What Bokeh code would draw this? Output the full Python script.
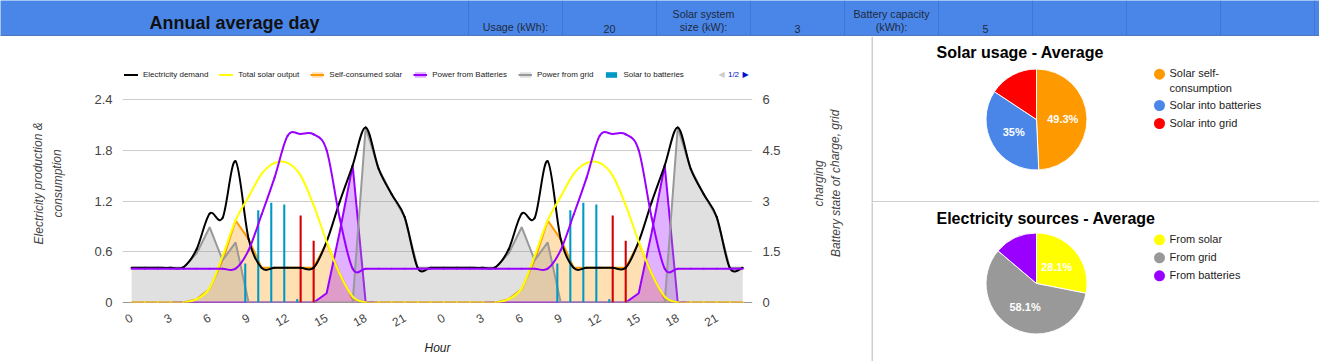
import numpy as np
from math import pi
from bokeh.plotting import figure
from bokeh.models import (Range1d, LinearAxis, FixedTicker, Legend, LegendItem,
                          Label, Span, ColumnDataSource, NumeralTickFormatter)
from bokeh.layouts import column, row
from bokeh.transform import dodge
from bokeh.embed import file_html
from bokeh.resources import INLINE
from bokeh.core.properties import value

FONT = "Liberation Sans"

# ---------------- header table ----------------
header_title = "Annual average day"
header_cells = ["Usage (kWh):", "20", "Solar system\nsize (kW):", "3",
                "Battery capacity\n(kWh):", "5", "", "", "", ""]

# ---------------- hourly data (average day) ----------------
hours = [0, 1, 2, 3, 4, 5, 6, 7, 8, 9, 10, 11,
         12, 13, 14, 15, 16, 17, 18, 19, 20, 21, 22, 23]
tick_hours = [0, 3, 6, 9, 12, 15, 18, 21]
demand = [0.41, 0.41, 0.41, 0.41, 0.42, 0.63, 1.05, 1.00, 1.67, 0.75, 0.41, 0.41,
          0.41, 0.41, 0.41, 0.72, 1.19, 1.62, 2.07, 1.58, 1.28, 1.01, 0.41, 0.41]
solar_output = [0, 0, 0, 0, 0, 0.04, 0.17, 0.55, 0.97, 1.25, 1.52, 1.65,
                1.65, 1.50, 1.15, 0.72, 0.34, 0.07, 0, 0, 0, 0, 0, 0]
self_consumed = [0, 0, 0, 0, 0, 0.04, 0.16, 0.50, 0.97, 0.75, 0.41, 0.41,
                 0.41, 0.41, 0.41, 0.71, 0.34, 0.04, 0, 0, 0, 0, 0, 0]
from_batteries = [0, 0, 0, 0, 0, 0, 0, 0, 0, 0, 0, 0,
                  0, 0, 0, 0.11, 0.83, 1.62, 0, 0, 0, 0, 0, 0]
from_grid = [0.41, 0.41, 0.41, 0.41, 0.41, 0.58, 0.89, 0.50, 0.71, 0, 0, 0,
             0, 0, 0, 0, 0, 0, 2.07, 1.58, 1.28, 1.01, 0.41, 0.41]
solar_to_batteries = [0, 0, 0, 0, 0, 0, 0, 0, 0, 0.46, 1.09, 1.18,
                      1.16, 0.04, 0, 0, 0, 0, 0, 0, 0, 0, 0, 0]
solar_to_grid = [0, 0, 0, 0, 0, 0, 0, 0, 0, 0, 0, 0,
                 0, 1.03, 0.73, 0, 0, 0, 0, 0, 0, 0, 0, 0]
battery_soc = [1.0, 1.0, 1.0, 1.0, 1.0, 1.0, 1.0, 1.0, 1.0, 1.55, 2.6, 3.7,
               4.93, 4.98, 4.97, 4.5, 2.5, 1.0, 1.0, 1.0, 1.0, 1.0, 1.0, 1.0]
days_shown = 2
left_ticks = [0, 0.6, 1.2, 1.8, 2.4]
right_ticks = [0, 1.5, 3, 4.5, 6]

# ---------------- pies ----------------
usage_labels = ["Solar self-\nconsumption", "Solar into batteries", "Solar into grid"]
usage_values = [49.3, 35.0, 15.7]
usage_colors = ["#ff9900", "#4a86e8", "#ff0000"]
usage_slice_text = ["49.3%", "35%", ""]

sources_labels = ["From solar", "From grid", "From batteries"]
sources_values = [28.1, 58.1, 13.8]
sources_colors = ["#ffff00", "#999999", "#9900ff"]
sources_slice_text = ["28.1%", "58.1%", ""]

BLACK, YELLOW, ORANGE, PURPLE, GRAY, TEAL, RED = (
    "#000000", "#ffff00", "#ff9900", "#9900ff", "#999999", "#0099c6", "#d40000")

# =============== header ===============
W_ALL, H_ALL = 1319, 361
HDR_H = 36
CELL = 94
FIRST = 468
hdr = figure(width=W_ALL, height=HDR_H, output_backend="svg", toolbar_location=None,
             x_range=Range1d(-FIRST / CELL, (W_ALL - FIRST) / CELL),
             y_range=Range1d(0, HDR_H), min_border=0,
             x_axis_location=None, y_axis_location=None)
hdr.background_fill_color = "#4a86e8"
hdr.border_fill_color = "#4a86e8"
hdr.outline_line_color = None
hdr.ygrid.visible = False
hdr.xgrid.ticker = FixedTicker(ticks=list(range(len(header_cells))))
hdr.xgrid.grid_line_color = "#3f77d6"
hdr.add_layout(Span(location=0.5, dimension="width", line_color="#56698f", line_width=1))
hsrc = ColumnDataSource(dict(x=[i + 0.5 for i in range(len(header_cells))], text=header_cells))
hdr.text(x="x", y=3.5, text="text", source=hsrc, text_align="center", text_baseline="bottom",
         text_font=value(FONT), text_font_size="10.7px", text_color="#1f2a3c",
         text_line_height=1.1)
hdr.text(x=[-FIRST / CELL / 2], y=[14], text=[header_title], text_align="center",
         text_baseline="middle", text_font=value(FONT), text_font_size="18px",
         text_font_style="bold", text_color="#111111")

# =============== main chart ===============
BODY_H = H_ALL - HDR_H
LT_W = 70                      # left axis-title strip
MAIN_X0, MAIN_X1 = LT_W, 800   # main figure span on the page
FR_L, FR_R, FR_TOP, FR_BOT, GRID_TOP = 122, 752, 60, 302, 99   # page pixels
y_top = left_ticks[-1] * (FR_BOT - FR_TOP) / (FR_BOT - GRID_TOP)
y2_top = right_ticks[-1] * (FR_BOT - FR_TOP) / (FR_BOT - GRID_TOP)
p = figure(width=MAIN_X1 - MAIN_X0, height=BODY_H, output_backend="svg",
           toolbar_location=None,
           x_range=Range1d(-0.7, 47.75), y_range=Range1d(0, y_top),
           min_border_left=FR_L - MAIN_X0, min_border_right=MAIN_X1 - FR_R,
           min_border_top=FR_TOP - HDR_H, min_border_bottom=H_ALL - FR_BOT)
p.outline_line_color = None
p.xgrid.visible = False
p.ygrid.grid_line_color = "#cccccc"
p.ygrid.ticker = FixedTicker(ticks=left_ticks)

x = np.arange(24 * days_shown)
def rep(a):
    return np.array(list(a) * days_shown, dtype=float)

src = ColumnDataSource(dict(x=x, demand=rep(demand), solar=rep(solar_output),
                            selfc=rep(self_consumed), batt=rep(from_batteries),
                            grid=rep(from_grid), s2b=rep(solar_to_batteries),
                            s2g=rep(solar_to_grid), soc=rep(battery_soc)))

p.add_layout(Span(location=0, dimension="width", line_color="#333333", line_width=1,
                  level="underlay"))

ra_o = p.varea(x="x", y1=0, y2="selfc", source=src, fill_color=ORANGE, fill_alpha=0.3)
rl_o = p.line("x", "selfc", source=src, line_color=ORANGE, line_width=2)
ra_b = p.varea(x="x", y1=0, y2="batt", source=src, fill_color=PURPLE, fill_alpha=0.3)
rl_b = p.line("x", "batt", source=src, line_color=PURPLE, line_width=2)
ra_g = p.varea(x="x", y1=0, y2="grid", source=src, fill_color=GRAY, fill_alpha=0.3)
rl_g = p.line("x", "grid", source=src, line_color=GRAY, line_width=2)

r_s2b = p.vbar(x=dodge("x", -0.26, range=p.x_range), top="s2b", width=0.16, source=src,
               fill_color=TEAL, line_color=None)
r_s2g = p.vbar(x=dodge("x", 0.0, range=p.x_range), top="s2g", width=0.16, source=src,
               fill_color=RED, line_color=None)


def smooth(xs, ys):
    xs = np.asarray(xs, float)
    ys = np.asarray(ys, float)
    xp = np.concatenate([[xs[0]], xs, [xs[-1]]])
    yp = np.concatenate([[ys[0]], ys, [ys[-1]]])
    mx = (xp[2:] - xp[:-2]) / 2.0
    my = (yp[2:] - yp[:-2]) / 2.0
    return dict(x0=xs[:-1], y0=ys[:-1], x1=xs[1:], y1=ys[1:],
                cx0=xs[:-1] + mx[:-1] / 3, cy0=ys[:-1] + my[:-1] / 3,
                cx1=xs[1:] - mx[1:] / 3, cy1=ys[1:] - my[1:] / 3)


def curve(ys, color, **kw):
    return p.bezier(source=ColumnDataSource(smooth(x, ys)), x0="x0", y0="y0",
                    x1="x1", y1="y1", cx0="cx0", cy0="cy0", cx1="cx1", cy1="cy1",
                    line_color=color, line_width=2, line_cap="round", **kw)


r_dem = curve(rep(demand), BLACK)
r_sol = curve(rep(solar_output), YELLOW)
p.extra_y_ranges = {"soc": Range1d(0, y2_top)}
r_soc = curve(rep(battery_soc), PURPLE, y_range_name="soc")

# axes
p.yaxis.ticker = FixedTicker(ticks=left_ticks)
p.yaxis.formatter = NumeralTickFormatter(format="0.[0]")
rax = LinearAxis(y_range_name="soc", ticker=FixedTicker(ticks=right_ticks),
                 formatter=NumeralTickFormatter(format="0.[0]"))
p.add_layout(rax, "right")
p.xaxis.ticker = FixedTicker(ticks=[h + 24 * d for d in range(days_shown) for h in tick_hours])
p.xaxis.major_label_overrides = {h + 24 * d: str(h) for d in range(days_shown) for h in tick_hours}
p.xaxis.major_label_orientation = pi / 6
for ax in [p.yaxis[0], rax, p.xaxis[0]]:
    ax.axis_line_color = None
    ax.major_tick_line_color = None
    ax.minor_tick_line_color = None
    ax.major_tick_out = 0
    ax.major_tick_in = 0
    ax.minor_tick_out = 0
    ax.major_label_text_font = FONT
    ax.major_label_text_color = "#444444"
    ax.major_label_text_font_size = "13px"
    ax.major_label_standoff = 10
    ax.axis_label_text_font = FONT
    ax.axis_label_text_font_style = "italic"
    ax.axis_label_text_font_size = "12px"
    ax.axis_label_text_color = "#444444"
p.xaxis.major_label_text_font_size = "12px"
p.xaxis.major_label_standoff = 14
p.xaxis.axis_label = "Hour"
p.xaxis.axis_label_text_color = "#222222"
p.xaxis.axis_label_standoff = 7

legend = Legend(items=[
    LegendItem(label="Electricity demand", renderers=[r_dem]),
    LegendItem(label="Total solar output", renderers=[r_sol]),
    LegendItem(label="Self-consumed solar", renderers=[ra_o, rl_o]),
    LegendItem(label="Power from Batteries", renderers=[ra_b, rl_b]),
    LegendItem(label="Power from grid", renderers=[ra_g, rl_g]),
    LegendItem(label="Solar to batteries", renderers=[r_s2b]),
], orientation="horizontal", location=(2, FR_BOT - 74 - 5), glyph_width=14, glyph_height=7,
    label_height=10, label_standoff=5, spacing=11, padding=0, margin=0,
    border_line_color=None, background_fill_alpha=0, label_text_font=FONT,
    label_text_font_size="8px", label_text_color="#222222")
p.add_layout(legend)


def lab(xp, text, color, font=FONT):
    p.add_layout(Label(x=xp - FR_L, y=FR_BOT - 74, x_units="screen", y_units="screen",
                       text=text, text_align="center", text_baseline="middle",
                       text_font=font, text_font_size="8px", text_color=color))


lab(721, "\u25c0", "#cccccc", "DejaVu Sans")
lab(733, "1/2", "#0011cc")
lab(745, "\u25b6", "#0011cc", "DejaVu Sans")


# axis-title strips (texts read bottom-to-top), coordinates = page pixels
def title_strip(x0, x1, xs, texts):
    f = figure(width=x1 - x0, height=BODY_H, output_backend="svg", toolbar_location=None,
               x_range=Range1d(x0, x1), y_range=Range1d(H_ALL, HDR_H),
               min_border=0, x_axis_location=None, y_axis_location=None)
    f.outline_line_color = None
    f.grid.visible = False
    f.text(x=xs, y=[201] * len(xs), text=texts, angle=[pi / 2] * len(xs),
           text_align="center", text_baseline="middle", text_font=value(FONT),
           text_font_size="12px", text_font_style="italic", text_color="#444444")
    return f


lt = title_strip(0, MAIN_X0, [38, 57], ["Electricity production &", "consumption"])
rt = title_strip(MAIN_X1, 871, [818, 835], ["charging", "Battery state of charge, grid"])

# =============== pies ===============
PIE_W = W_ALL - 871


def make_pie(title, labels, values, colors, slice_text, H, cy_top, leg_top):
    f = figure(width=PIE_W, height=H, output_backend="svg", toolbar_location=None,
               x_range=Range1d(0, PIE_W), y_range=Range1d(0, H), min_border=0,
               x_axis_location=None, y_axis_location=None)
    f.outline_line_color = None
    f.grid.visible = False
    cx, cy, R = 165, H - cy_top, 50.5
    v = np.array(values, float)
    frac = v / v.sum()
    ends = np.cumsum(frac)
    starts = ends - frac
    s = ColumnDataSource(dict(start=pi / 2 - starts * 2 * pi, end=pi / 2 - ends * 2 * pi,
                              color=colors))
    f.wedge(x=cx, y=cy, radius=R, start_angle="start", end_angle="end", direction="clock",
            fill_color="color", line_color="white", line_width=1, source=s)
    mid = (starts + ends) * pi
    f.text(x=cx + 0.52 * R * np.sin(mid), y=cy + 0.52 * R * np.cos(mid), text=slice_text,
           text_align="center", text_baseline="middle", text_font=value(FONT),
           text_font_size="11px", text_font_style="bold", text_color="white")
    f.text(x=[65], y=[H - 16], text=[title], text_align="left", text_baseline="middle",
           text_font=value(FONT), text_font_size="16px", text_font_style="bold",
           text_color="#000000")
    nlines = np.array([lb.count("\n") for lb in labels])
    extra = np.concatenate([[0], np.cumsum(nlines)[:-1]])
    ytop = leg_top + 18 * np.arange(len(labels)) + 13.3 * extra
    ly = H - ytop
    f.scatter(x=[288] * len(labels), y=ly, size=11, marker="circle", fill_color=colors,
              line_color=None)
    f.text(x=[298] * len(labels), y=ly + 6.8, text=labels, text_align="left",
           text_baseline="top", text_font=value(FONT), text_font_size="11px",
           text_color="#222222", text_line_height=1.2)
    f.add_layout(Span(location=0.5, dimension="height", line_color="#9e9e9e", line_width=1))
    return f


pie1 = make_pie("Solar usage - Average", usage_labels, usage_values, usage_colors,
                usage_slice_text, 166, 83, 37.7)
pie1.add_layout(Span(location=0.5, dimension="width", line_color="#9e9e9e", line_width=1))
pie2 = make_pie("Electricity sources - Average", sources_labels, sources_values,
                sources_colors, sources_slice_text, BODY_H - 166, 81, 37.3)

root = column(hdr, row(lt, p, rt, column(pie1, pie2)))
open("out.html", "w").write(file_html(root, INLINE))
